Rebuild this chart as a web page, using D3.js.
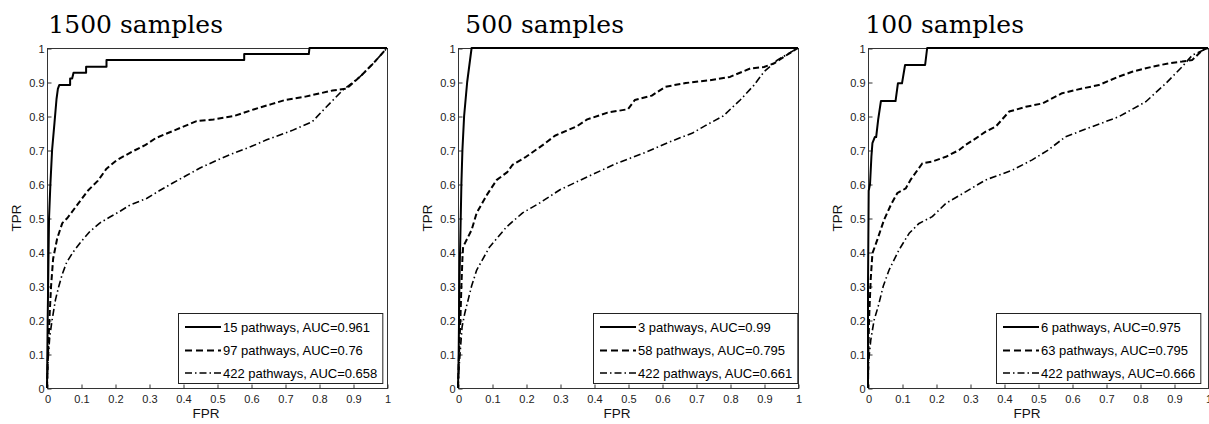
<!DOCTYPE html>
<html>
<head>
<meta charset="utf-8">
<title>ROC curves</title>
<script src="https://d3js.org/d3.v7.min.js"></script>
<style>
  body { margin: 0; background: #fff; }
  svg { display: block; }
  .tick-label { font: 11px "Liberation Sans", Arial, sans-serif; fill: #222; }
  .axis-label { font: 13.5px "Liberation Sans", Arial, sans-serif; fill: #111; }
  .title { font: 25px "DejaVu Serif", serif; fill: #000; }
  .legend text { font: 13px "Liberation Sans", Arial, sans-serif; fill: #000; }
</style>
</head>
<body>
<div id="chart"></div>
<script>
// ---- data ----
var titles = ["1500 samples", "500 samples", "100 samples"];

var labels1500 = ["15 pathways, AUC=0.961", "97 pathways, AUC=0.76", "422 pathways, AUC=0.658"];
var labels500 = ["3 pathways, AUC=0.99", "58 pathways, AUC=0.795", "422 pathways, AUC=0.661"];
var labels100 = ["6 pathways, AUC=0.975", "63 pathways, AUC=0.795", "422 pathways, AUC=0.666"];

var tickValues = [0, 0.1, 0.2, 0.3, 0.4, 0.5, 0.6, 0.7, 0.8, 0.9, 1];
var tickLabels = ["0", "0.1", "0.2", "0.3", "0.4", "0.5", "0.6", "0.7", "0.8", "0.9", "1"];

// [FPR, TPR]
var solid1500 = [[0,0],[0.002,0.2],[0.004,0.35],[0.006,0.5],[0.01,0.6],[0.015,0.7],[0.022,0.78],[0.028,0.85],
  [0.032,0.88],[0.036,0.891],[0.068,0.891],[0.068,0.91],[0.074,0.91],[0.078,0.927],[0.115,0.927],[0.115,0.945],
  [0.175,0.945],[0.175,0.965],[0.58,0.965],[0.58,0.982],[0.77,0.982],[0.772,1],[1,1]];
var dashed1500 = [[0,0],[0.003,0.1],[0.007,0.2],[0.012,0.3],[0.018,0.38],[0.03,0.44],[0.045,0.485],[0.06,0.5],
  [0.09,0.54],[0.12,0.58],[0.15,0.61],[0.175,0.645],[0.205,0.67],[0.25,0.695],[0.29,0.715],[0.32,0.735],
  [0.38,0.76],[0.44,0.785],[0.49,0.79],[0.55,0.8],[0.61,0.82],[0.66,0.835],[0.7,0.847],[0.76,0.857],
  [0.84,0.875],[0.88,0.88],[0.92,0.915],[0.96,0.955],[1,1]];
var dashdot1500 = [[0,0],[0.003,0.08],[0.008,0.15],[0.015,0.2],[0.025,0.26],[0.035,0.3],[0.045,0.335],[0.058,0.37],
  [0.077,0.4],[0.1,0.43],[0.126,0.46],[0.155,0.485],[0.185,0.503],[0.215,0.52],[0.244,0.538],[0.294,0.558],
  [0.33,0.58],[0.37,0.603],[0.41,0.625],[0.45,0.647],[0.5,0.67],[0.547,0.69],[0.6,0.71],[0.646,0.73],
  [0.72,0.757],[0.78,0.783],[0.82,0.825],[0.87,0.876],[0.92,0.915],[0.96,0.955],[1,1]];

var solid500 = [[0,0],[0.002,0.1],[0.004,0.3],[0.006,0.4],[0.01,0.6],[0.013,0.7],[0.018,0.8],[0.027,0.9],[0.04,1],[1,1]];
var dashed500 = [[0,0],[0.003,0.1],[0.007,0.2],[0.01,0.3],[0.013,0.38],[0.015,0.415],[0.04,0.465],[0.055,0.515],
  [0.085,0.568],[0.114,0.612],[0.145,0.635],[0.16,0.656],[0.2,0.68],[0.25,0.715],[0.285,0.742],[0.35,0.77],
  [0.38,0.79],[0.44,0.81],[0.5,0.82],[0.52,0.847],[0.57,0.86],[0.61,0.886],[0.67,0.897],[0.74,0.905],
  [0.8,0.915],[0.86,0.94],[0.9,0.944],[0.93,0.955],[0.96,0.975],[1,1]];
var dashdot500 = [[0,0],[0.003,0.06],[0.006,0.1],[0.012,0.18],[0.02,0.22],[0.03,0.26],[0.04,0.3],[0.055,0.347],
  [0.093,0.415],[0.143,0.474],[0.19,0.515],[0.24,0.544],[0.3,0.583],[0.378,0.62],[0.465,0.66],[0.554,0.694],
  [0.62,0.723],[0.69,0.75],[0.73,0.773],[0.78,0.8],[0.83,0.847],[0.87,0.89],[0.9,0.93],[0.94,0.965],[1,1]];

var solid100 = [[0,0],[0,0.3],[0.002,0.58],[0.006,0.6],[0.01,0.68],[0.013,0.72],[0.02,0.738],[0.024,0.738],
  [0.03,0.79],[0.038,0.844],[0.081,0.844],[0.088,0.896],[0.1,0.896],[0.109,0.95],[0.168,0.95],[0.174,1],[1,1]];
var dashed100 = [[0,0],[0.001,0.1],[0.003,0.2],[0.008,0.32],[0.013,0.396],[0.027,0.435],[0.047,0.494],[0.067,0.538],
  [0.086,0.573],[0.111,0.587],[0.125,0.612],[0.16,0.661],[0.189,0.666],[0.229,0.68],[0.268,0.7],[0.287,0.715],
  [0.317,0.734],[0.346,0.754],[0.376,0.769],[0.415,0.813],[0.464,0.827],[0.513,0.837],[0.571,0.867],
  [0.63,0.881],[0.679,0.891],[0.738,0.916],[0.777,0.93],[0.836,0.945],[0.885,0.955],[0.924,0.96],
  [0.954,0.965],[0.984,0.994],[1,1]];
var dashdot100 = [[0,0],[0.001,0.05],[0.003,0.09],[0.008,0.14],[0.018,0.2],[0.03,0.24],[0.037,0.268],[0.045,0.3],
  [0.062,0.347],[0.091,0.406],[0.121,0.455],[0.15,0.484],[0.189,0.504],[0.229,0.543],[0.287,0.577],
  [0.346,0.612],[0.425,0.641],[0.483,0.671],[0.53,0.7],[0.581,0.739],[0.66,0.769],[0.738,0.798],
  [0.817,0.842],[0.876,0.896],[0.924,0.945],[0.954,0.979],[1,1]];

var panelLabels = [labels1500, labels500, labels100];
var panelSeries = [[solid1500, dashed1500, dashdot1500], [solid500, dashed500, dashdot500], [solid100, dashed100, dashdot100]];

// ---- layout & styles ----
var width = 1209, height = 424;
var plotLeft = [47, 458, 868], plotTop = 48, plotSize = 340;
var titleRight = [223, 624, 1024];
var legendInset = [5, 1, 8];
var styles = [
  { dash: null, w: 2, legendDash: null },
  { dash: "6,3", w: 2, legendDash: "7,4" },
  { dash: "7,3,1.5,3", w: 1.6, legendDash: "7,3,1.5,3" }
];

var svg = d3.select("#chart").append("svg")
  .attr("width", width).attr("height", height);

titles.forEach(function(title, p) {
  var x = d3.scaleLinear().domain([0, 1]).range([plotLeft[p], plotLeft[p] + plotSize]);
  var y = d3.scaleLinear().domain([0, 1]).range([plotTop + plotSize, plotTop]);
  var g = svg.append("g");

  // title
  g.append("text").attr("class", "title")
    .attr("x", titleRight[p]).attr("y", 33)
    .attr("text-anchor", "end")
    .text(title);

  // axes frame
  g.append("rect")
    .attr("x", x(0) + 0.5).attr("y", y(1) + 0.5)
    .attr("width", plotSize).attr("height", plotSize)
    .attr("fill", "none").attr("stroke", "#333").attr("stroke-width", 1);

  var xAxis = d3.axisBottom(x).tickValues(tickValues).tickSizeInner(-4).tickSizeOuter(0)
    .tickFormat(function(d, i) { return tickLabels[i]; });
  var yAxis = d3.axisLeft(y).tickValues(tickValues).tickSizeInner(-4).tickSizeOuter(0)
    .tickFormat(function(d, i) { return tickLabels[i]; }).tickPadding(3);

  var gx = g.append("g").attr("transform", "translate(0.5," + (y(0) + 0.5) + ")").call(xAxis);
  var gy = g.append("g").attr("transform", "translate(" + (x(0) + 0.5) + ",0.5)").call(yAxis);
  [gx, gy].forEach(function(ax) {
    ax.select(".domain").remove();
    ax.selectAll("line").attr("stroke", "#333");
    ax.selectAll("text").attr("class", "tick-label").attr("fill", null).attr("font-size", null).attr("font-family", null);
  });
  gx.selectAll("text").attr("y", 7);

  g.append("text").attr("class", "axis-label")
    .attr("x", x(0.5) - 11).attr("y", 418)
    .attr("text-anchor", "middle").text("FPR");
  g.append("text").attr("class", "axis-label")
    .attr("transform", "translate(" + (plotLeft[p] - 26) + "," + y(0.5) + ") rotate(-90)")
    .attr("text-anchor", "middle").text("TPR");

  // curves (dash-dot first so the solid one sits on top)
  var line = d3.line().x(function(d) { return x(d[0]); }).y(function(d) { return y(d[1]); });
  panelSeries[p].slice().reverse().forEach(function(series, ri) {
    var s = styles[2 - ri];
    g.append("path").datum(series)
      .attr("d", line)
      .attr("fill", "none").attr("stroke", "#000")
      .attr("stroke-width", s.w)
      .attr("stroke-dasharray", s.dash)
      .attr("stroke-linejoin", "round");
  });

  // legend
  var lg = g.append("g").attr("class", "legend");
  var rows = [14, 37.5, 60];
  var texts = lg.selectAll("text").data(panelLabels[p]).enter().append("text")
    .attr("x", 45).attr("y", function(d, i) { return rows[i]; })
    .attr("dy", "0.35em").text(function(d) { return d; });
  var maxW = 0;
  texts.each(function() { maxW = Math.max(maxW, this.getComputedTextLength()); });
  var boxW = 45 + maxW + 5, boxH = 70;
  var boxLeft = Math.round(x(1) - legendInset[p] - boxW);
  lg.attr("transform", "translate(" + boxLeft + ",313)");
  lg.insert("rect", "text")
    .attr("x", 0.5).attr("y", 0.5).attr("width", boxW).attr("height", boxH)
    .attr("fill", "#fff").attr("stroke", "#222").attr("stroke-width", 1);
  panelLabels[p].forEach(function(lbl, i) {
    lg.append("line")
      .attr("x1", 7).attr("x2", 43)
      .attr("y1", rows[i]).attr("y2", rows[i])
      .attr("stroke", "#000").attr("stroke-width", styles[i].w)
      .attr("stroke-dasharray", styles[i].legendDash);
  });
});
</script>
</body>
</html>
